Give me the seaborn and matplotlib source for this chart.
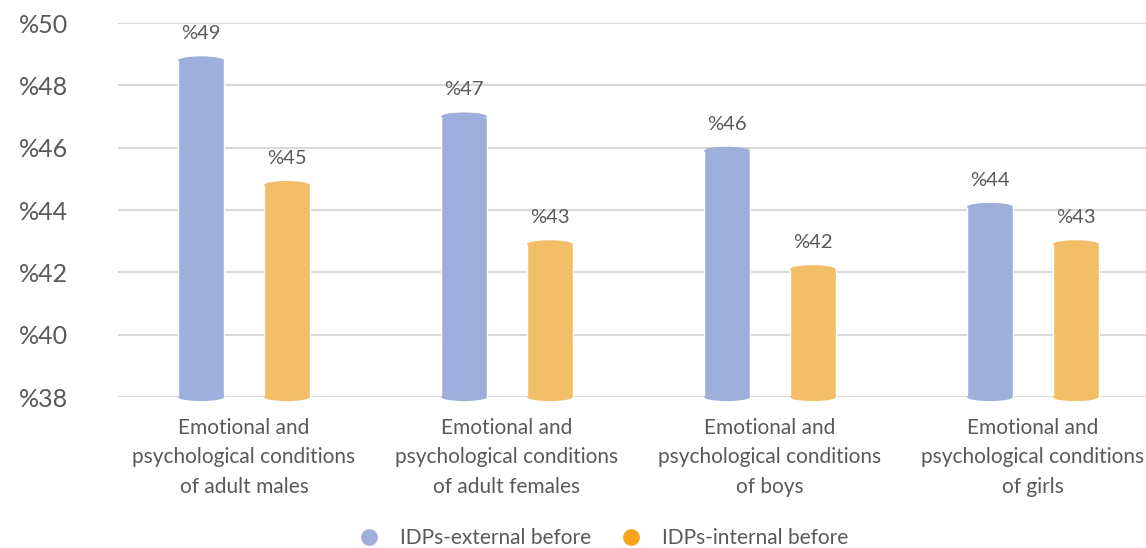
import pandas as pd
import matplotlib.pyplot as plt
import seaborn as sns
from matplotlib.patches import Ellipse
from matplotlib.lines import Line2D

# Data
categories = [
    'Emotional and\npsychological conditions\nof adult males',
    'Emotional and\npsychological conditions\nof adult females',
    'Emotional and\npsychological conditions\nof boys',
    'Emotional and\npsychological conditions\nof girls',
]
series_names = ['IDPs-external before', 'IDPs-internal before']
external_before = [48.8, 47.0, 45.9, 44.1]
internal_before = [44.8, 42.9, 42.1, 42.9]
y_ticks = [38, 40, 42, 44, 46, 48, 50]

bar_colors = ['#9DAFDA', '#F2BE68']
legend_colors = ['#9DAFDA', '#F6A31A']
text_gray = '#595959'

df = pd.DataFrame({
    'Category': categories * 2,
    'Group': [series_names[0]] * 4 + [series_names[1]] * 4,
    'Value': external_before + internal_before,
})

sns.set_style('white')
plt.rcParams['font.family'] = ['Lato', 'DejaVu Sans']

fig = plt.figure(figsize=(11.46, 5.48), dpi=100)
ax = fig.add_axes([0.103, 0.2755, 0.897, 0.6825])

sns.barplot(data=df, x='Category', y='Value', hue='Group', palette=bar_colors,
            width=0.653, gap=0.465, legend=False, ax=ax, saturation=1)

ax.set_ylim(38, 50)
ax.set_xlim(-0.479, 3.43)
ax.set_yticks(y_ticks)
ax.set_yticklabels(['%' + str(t) for t in y_ticks], fontsize=18, color=text_gray)
ax.tick_params(axis='y', length=0, pad=36)
ax.tick_params(axis='x', length=0, pad=15)
for lbl in ax.get_xticklabels():
    lbl.set_fontsize(15)
    lbl.set_color(text_gray)
    lbl.set_linespacing(1.6)
ax.set_xlabel('')
ax.set_ylabel('')
ax.yaxis.grid(True, color='#D9D9D9', linewidth=1.5)
ax.set_axisbelow(True)
sns.despine(ax=ax, left=True, bottom=True)

# cylinder caps and value labels
cap_h = 0.26
for bar, color in zip(ax.patches, [bar_colors[0]] * 4 + [bar_colors[1]] * 4):
    cx = bar.get_x() + bar.get_width() / 2
    top = bar.get_height()
    ax.add_patch(Ellipse((cx, top), bar.get_width(), cap_h, color=color,
                         linewidth=0, zorder=bar.get_zorder()))
    ax.add_patch(Ellipse((cx, 38), bar.get_width(), cap_h, color=color,
                         linewidth=0, zorder=bar.get_zorder(), clip_on=False))
    ax.annotate('%' + str(int(round(top))), (cx, top), xytext=(0, 13),
                textcoords='offset points', ha='center', va='bottom',
                fontsize=14.5, color=text_gray)

handles = [Line2D([], [], marker='o', linestyle='', markersize=11,
                  markerfacecolor=c, markeredgecolor=c) for c in legend_colors]
fig.legend(handles, series_names, loc='center', bbox_to_anchor=(0.522, 0.018),
           ncol=2, frameon=False, fontsize=15, labelcolor=text_gray,
           handletextpad=0.5, columnspacing=0.9)

plt.savefig('out.png', dpi=100)
